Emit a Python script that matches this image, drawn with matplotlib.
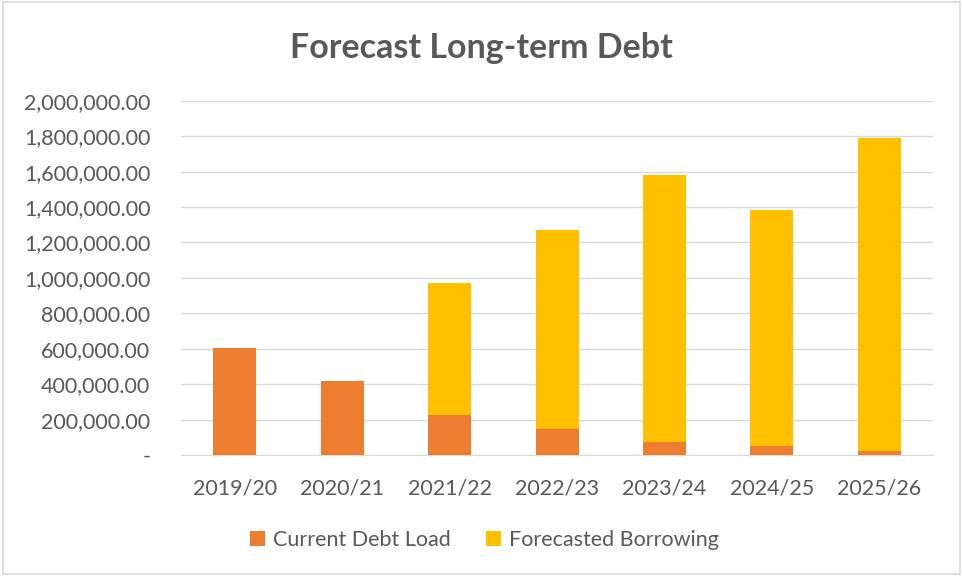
import matplotlib.pyplot as plt
from matplotlib.patches import Rectangle
from matplotlib.ticker import FuncFormatter

plt.rcParams['font.family'] = ['Lato', 'DejaVu Sans']

# data
years = ["2019/20", "2020/21", "2021/22", "2022/23", "2023/24", "2024/25", "2025/26"]
current_debt = [604000, 416000, 226000, 145000, 73000, 51000, 23000]
forecast_borrowing = [0, 0, 746000, 1127000, 1506000, 1334000, 1766000]

orange = "#ED7D31"
yellow = "#FFC000"
grey_txt = "#595959"

fig = plt.figure(figsize=(9.63, 5.76), dpi=100)
ax = fig.add_axes([0.188, 0.21, 0.781, 0.615])

x = range(len(years))
ax.bar(x, current_debt, width=0.4, color=orange, label="Current Debt Load", zorder=3)
ax.bar(x, forecast_borrowing, width=0.4, bottom=current_debt, color=yellow,
       label="Forecasted Borrowing", zorder=3)

ax.set_xlim(-0.5, len(years) - 0.5)
ax.set_ylim(0, 2000000)
ax.set_yticks(range(0, 2000001, 200000))
ax.yaxis.set_major_formatter(FuncFormatter(lambda v, p: "-" if v == 0 else f"{v:,.2f}"))
ax.set_xticks(list(x))
ax.set_xticklabels(years)

ax.grid(axis="y", color="#d9d9d9", linewidth=1, zorder=0)
for s in ["top", "right", "left"]:
    ax.spines[s].set_visible(False)
ax.spines["bottom"].set_color("#d9d9d9")
ax.tick_params(axis="both", length=0, labelsize=15.5, colors=grey_txt)
ax.tick_params(axis="y", pad=22)
ax.tick_params(axis="x", pad=17)

fig.text(0.5, 0.916, "Forecast Long-term Debt", ha="center", va="center",
         fontsize=24.5, fontweight="bold", color=grey_txt)

leg = fig.legend(loc="center", bbox_to_anchor=(0.503, 0.063), ncol=2, frameon=False,
                 fontsize=15.5, handlelength=0.7, handleheight=0.7, columnspacing=1.6,
                 handletextpad=0.4)
for t in leg.get_texts():
    t.set_color(grey_txt)

# chart area border
fig.patches.append(Rectangle((0.003, 0.003), 0.994, 0.994, transform=fig.transFigure,
                             fill=False, edgecolor="#d9d9d9", linewidth=1.2))

fig.savefig("out.png", dpi=100)
